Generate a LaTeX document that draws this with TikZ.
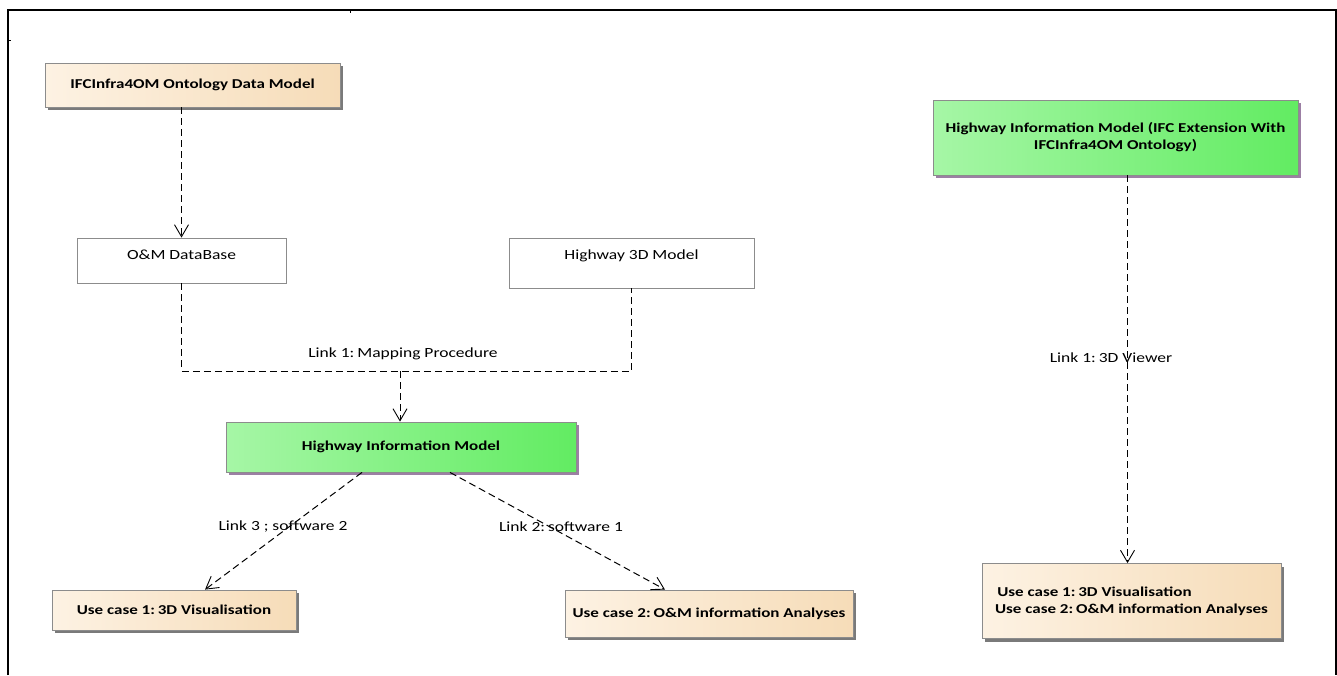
\documentclass[tikz,border=0pt]{standalone}
\usepackage{fontspec}
\setmainfont[FakeStretch=1.25]{Carlito}
\usetikzlibrary{arrows.meta,shadows,calc}
\definecolor{peachA}{HTML}{FDF2E3}
\definecolor{peachB}{HTML}{F6DCB8}
\definecolor{greenA}{HTML}{A6F6A6}
\definecolor{greenB}{HTML}{62EC62}
\definecolor{shadowgray}{HTML}{7A7A7A}
\definecolor{shadowpurple}{HTML}{9C7FA4}
\newcommand{\basefont}{\frenchspacing\fontsize{14}{17}\selectfont}
\newcommand{\boldfont}{\frenchspacing\fontsize{13.6}{17}\selectfont\bfseries}
\newcommand{\colsp}{:\hspace{-1pt} }
\tikzset{
  box/.style={draw=black!45, line width=0.8pt, inner sep=0pt, align=center},
  peachbox/.style={box, left color=peachA, right color=peachB, font=\boldfont,
    drop shadow={shadow xshift=3pt, shadow yshift=-3pt, fill=shadowgray, opacity=1}},
  greenbox/.style={box, left color=greenA, right color=greenB, font=\boldfont,
    drop shadow={shadow xshift=3pt, shadow yshift=-3pt, fill=shadowpurple, opacity=1}},
  plainbox/.style={box, fill=white, font=\basefont},
  dep/.style={line width=1pt, dash pattern=on 7pt off 4pt,
    -{Straight Barb[length=12pt,width=14pt,line width=0.9pt]}},
  deplink/.style={line width=1pt, dash pattern=on 7pt off 4pt},
  lbl/.style={inner sep=1pt, font=\basefont},
  frame/.style={line width=1.3pt}
}
\begin{document}
\begin{tikzpicture}[x=1pt,y=-1pt]
\useasboundingbox (0,0) rectangle (1337,675);
% frame
\coordinate (f1) at (8,675);
\coordinate (f2) at (8,10);
\coordinate (f3) at (1336,10);
\coordinate (f4) at (1336,675);
\draw[frame] (f1) -- (f2) -- (f3) -- (f4);
\coordinate (t1) at (350,10);
\coordinate (t2) at (8,40);
\draw[line width=1pt] (t1) -- ++(0,3);
\draw[line width=1pt] (t2) -- ++(3,0);
% nodes
\node[peachbox, minimum width=295pt, minimum height=44pt] (ifc) at (192.5,85) {IFCInfra4OM Ontology Data Model};
\node[plainbox, minimum width=209pt, text height=21pt, text depth=24pt] (omdb) at (181.5,260.5) {O\&M DataBase};
\node[plainbox, minimum width=245pt, text height=21pt, text depth=29pt] (h3d) at (631.5,263) {Highway 3D Model};
\node[greenbox, minimum width=350pt, minimum height=50pt] (him) at (401,447) {Highway Information Model};
\node[peachbox, minimum width=244pt, minimum height=40pt] (uc1) at (174,610) {Use case 1\colsp 3D Visualisation};
\node[peachbox, minimum width=288pt, minimum height=47pt] (uc2) at (709,613.5) {Use case 2\colsp O\&M information Analyses};
\node[greenbox, minimum width=365pt, minimum height=75pt] (rhim) at (1115.5,137.5) {Highway Information Model (IFC Extension With\\IFCInfra4OM Ontology)};
\node[peachbox, minimum width=299pt, minimum height=75pt, align=left] (ruc) at (1131.5,601) {\,Use case 1\colsp 3D Visualisation\\Use case 2\colsp O\&M information Analyses};
% connectors
\draw[dep] (omdb.north |- ifc.south) -- (omdb.north);
\coordinate (mid) at (400,371);
\draw[deplink] (omdb.south) |- (mid) -| (h3d.south);
\draw[dep] (mid) -- (mid |- him.north);
\node[lbl] (l1) at (403,354) {Link 1\colsp Mapping Procedure};
\draw[dep] ($(him.south)+(-39,0)$) -- ($(uc1.north)+(31,0)$);
\node[lbl] (l3) at (283,527) {Link 3 ; software 2};
\draw[dep] ($(him.south)+(49,0)$) -- ($(uc2.north)+(-44,0)$);
\node[lbl] (l2) at (561,527) {Link 2\colsp software 1};
\coordinate (rs) at ($(rhim.south)+(12,0)$);
\draw[dep] (rs) -- (rs |- ruc.north);
\node[lbl] (lr) at (1111,358) {Link 1\colsp 3D Viewer};
\end{tikzpicture}
\end{document}
